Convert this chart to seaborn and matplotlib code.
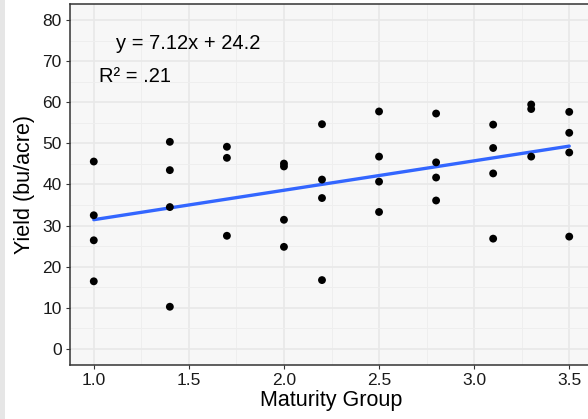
import numpy as np
import pandas as pd
import matplotlib
matplotlib.use("Agg")
import matplotlib.pyplot as plt
import seaborn as sns
from matplotlib.patches import Rectangle

maturity = [1.0, 1.0, 1.0, 1.0,
            1.4, 1.4, 1.4, 1.4,
            1.7, 1.7, 1.7,
            2.0, 2.0, 2.0, 2.0,
            2.2, 2.2, 2.2, 2.2,
            2.5, 2.5, 2.5, 2.5,
            2.8, 2.8, 2.8, 2.8,
            3.1, 3.1, 3.1, 3.1,
            3.3, 3.3, 3.3,
            3.5, 3.5, 3.5, 3.5]
yield_bu = [45.6, 32.5, 26.4, 16.4,
            50.4, 43.5, 34.5, 10.2,
            49.2, 46.5, 27.5,
            45.1, 44.4, 31.4, 24.8,
            54.7, 41.2, 36.7, 16.7,
            57.8, 46.8, 40.7, 33.3,
            57.3, 45.4, 41.7, 36.1,
            54.6, 48.9, 42.7, 26.8,
            59.5, 58.4, 46.8,
            57.7, 52.6, 47.8, 27.3]
x_ticks = [1.0, 1.5, 2.0, 2.5, 3.0, 3.5]
y_ticks = [0, 10, 20, 30, 40, 50, 60, 70, 80]
eq_text = "y = 7.12x + 24.2"
r2_text = "R² = .21"

df = pd.DataFrame({"Maturity Group": maturity, "Yield (bu/acre)": yield_bu})

sns.set_style("white")
plt.rcParams['font.family'] = ['Liberation Sans', 'DejaVu Sans']

W, H = 588, 419
fig = plt.figure(figsize=(W / 100, H / 100), dpi=100)
fig.patch.set_facecolor("white")
fig.patches.append(Rectangle((0, 0), 5 / W, 1, transform=fig.transFigure,
                             facecolor="#E6E6E6", edgecolor="none", zorder=0))

left, right, bottom, top = 70, 593, 365, 4
ax = fig.add_axes([left / W, (H - bottom) / H, (right - left) / W, (bottom - top) / H])
ax.set_facecolor("#F7F7F7")

sns.regplot(data=df, x="Maturity Group", y="Yield (bu/acre)", ax=ax, ci=None,
            scatter_kws=dict(s=32, color="black", edgecolor="none", alpha=1, zorder=3),
            line_kws=dict(color="#3366FF", lw=2.4, zorder=2))

ax.set_xlim(0.875, 3.625)
ax.set_ylim(-4, 84)
ax.set_xticks(x_ticks)
ax.set_xticklabels([f"{t:.1f}" for t in x_ticks])
ax.set_yticks(y_ticks)
ax.set_yticklabels([str(t) for t in y_ticks])
ax.set_xticks(np.arange(1.25, 3.6, 0.5), minor=True)
ax.set_yticks(np.arange(5, 84, 10), minor=True)
ax.grid(True, which="major", color="#E8E8E8", lw=1.2)
ax.grid(True, which="minor", color="#EEEEEE", lw=0.7)
ax.set_axisbelow(True)

for s in ["left", "bottom", "top"]:
    ax.spines[s].set_color("#333333")
    ax.spines[s].set_linewidth(1.1)
ax.spines["right"].set_visible(False)

ax.tick_params(axis="both", which="major", length=3, width=0.8, color="#333333",
               labelsize=12.5, labelcolor="#1A1A1A", pad=3, direction="out",
               bottom=True, left=True)
ax.tick_params(axis="both", which="minor", length=0)

ax.set_xlabel("Maturity Group", fontsize=15.5, color="black", labelpad=1)
ax.set_ylabel("Yield (bu/acre)", fontsize=15.5, color="black", labelpad=5.5)

ax.text(1.495, 74.4, eq_text, ha="center", va="center", fontsize=14.5, color="black")
ax.text(1.03, 66.3, r2_text, ha="left", va="center", fontsize=14.5, color="black")

fig.savefig("out.png", dpi=100)
